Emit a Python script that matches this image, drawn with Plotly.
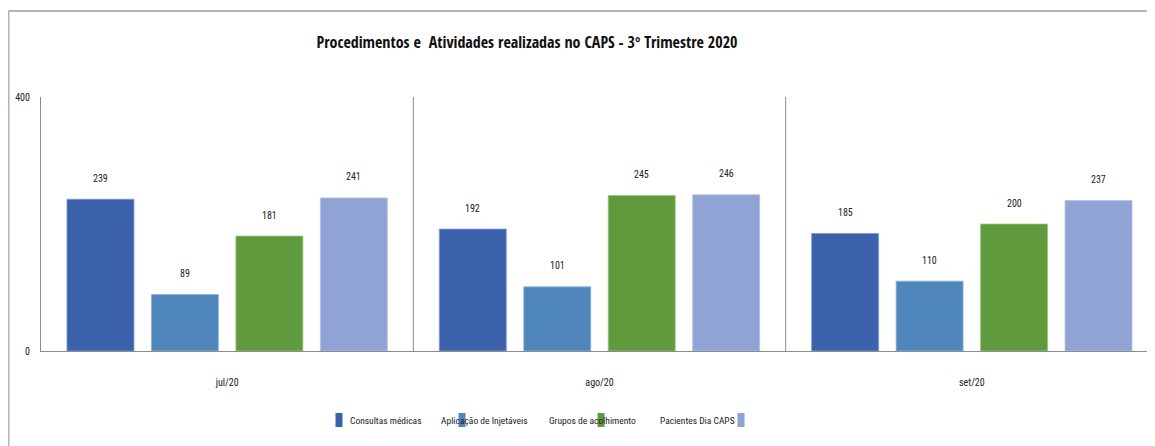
import plotly.graph_objects as go

categories = ["jul/20", "ago/20", "set/20"]
series_names = ["Consultas médicas", "Aplicação de Injetáveis", "Grupos de acolhimento", "Pacientes Dia CAPS"]
consultas = [239, 192, 185]
aplicacao = [89, 101, 110]
grupos = [181, 245, 200]
pacientes = [241, 246, 237]
colors = ["#3C62AC", "#4F87BD", "#5F9A3C", "#8FA3D5"]
edge_colors = ["#7E9BD0", "#8DB3DA", "#9CC47F", "#B4C2E6"]
y_ticks = [0, 400]

FONT = "Roboto Condensed, DejaVu Sans Condensed, sans-serif"
TFONT = "Open Sans Condensed, Roboto Condensed, sans-serif"
OFF = 8  # page body margin
W, H = 1155 - OFF, 446 - OFF
ML = 41 - OFF
MT = 97 - OFF
plot_bottom = 351 - OFF
MB = H - plot_bottom
MR = 0
pw = W - ML - MR
ph = H - MT - MB

all_series = [consultas, aplicacao, grupos, pacientes]
fig = go.Figure()
for name, vals, col, ec in zip(series_names, all_series, colors, edge_colors):
    fig.add_trace(go.Bar(x=categories, y=vals, name=name, marker_color=col,
                         marker_line=dict(color=ec, width=0.8), showlegend=False))

bargap = 0.0926
bargroupgap = 0.207
n = len(all_series)
group_w = 1 - bargap
slot = group_w / n
for si, vals in enumerate(all_series):
    for ci, v in enumerate(vals):
        xc = ci - group_w / 2 + slot * (si + 0.5)
        fig.add_annotation(x=xc, y=v, xref="x", yref="y", text=str(v), showarrow=False,
                           yshift=21, font=dict(family=FONT, size=10, color="#222"))

for b in [0.5, 1.5]:
    fig.add_shape(type="line", xref="x", yref="y", x0=b, x1=b, y0=0, y1=400,
                  line=dict(color="#8c8c8c", width=1))

def px2x(px):
    return (px - OFF - ML) / pw

def py2y(py):
    return (plot_bottom - (py - OFF)) / ph

# outer frame (left and top)
fig.add_shape(type="line", xref="paper", yref="paper", x0=px2x(8.5), x1=px2x(8.5),
              y0=py2y(11), y1=py2y(460), line=dict(color="#b4b4b4", width=2))
fig.add_shape(type="line", xref="paper", yref="paper", x0=px2x(8.5), x1=px2x(1170),
              y0=py2y(11), y1=py2y(11), line=dict(color="#b4b4b4", width=2))

# manual legend
ly = py2y(420)
legend_items = [
    (series_names[0], 350, 339),
    (series_names[1], 441, 462),
    (series_names[2], 549, 601),
    (series_names[3], 660, 741),
]
for (name, tx, mx), col in zip(legend_items, colors):
    fig.add_annotation(x=px2x(tx), y=ly, xref="paper", yref="paper", text=name,
                       showarrow=False, xanchor="left", yanchor="middle", xshift=-2,
                       font=dict(family=FONT, size=9.5, color="#222"))
    fig.add_shape(type="rect", xref="paper", yref="paper",
                  x0=px2x(mx - 3.5), x1=px2x(mx + 3.5),
                  y0=py2y(427), y1=py2y(413),
                  fillcolor=col, line_width=0, layer="above")

fig.update_layout(
    width=W, height=H,
    margin=dict(l=ML, r=MR, t=MT, b=MB),
    paper_bgcolor="white", plot_bgcolor="white",
    barmode="group", bargap=bargap, bargroupgap=bargroupgap,
    title=dict(text="<b>Procedimentos e  Atividades realizadas no CAPS - 3º Trimestre 2020</b>",
               x=(527 - OFF) / W, xref="container", xanchor="center",
               y=1 - (42 - OFF) / H, yref="container", yanchor="middle",
               font=dict(family=TFONT, size=16, color="#111")),
    font=dict(family=FONT, size=10, color="#222"),
)
fig.update_xaxes(range=[-0.5, 2.5 - 3 / 372.5], showgrid=False, showline=True,
                 linecolor="#8c8c8c", linewidth=1, ticks="", ticklabelstandoff=22,
                 tickfont=dict(family=FONT, size=10, color="#222"))
fig.update_yaxes(range=[0, 400], tickvals=y_ticks, showgrid=False, showline=True,
                 linecolor="#8c8c8c", linewidth=1, ticks="", zeroline=False,
                 ticklabelstandoff=8, tickfont=dict(family=FONT, size=10, color="#222"))

fig.write_html("out.html")
